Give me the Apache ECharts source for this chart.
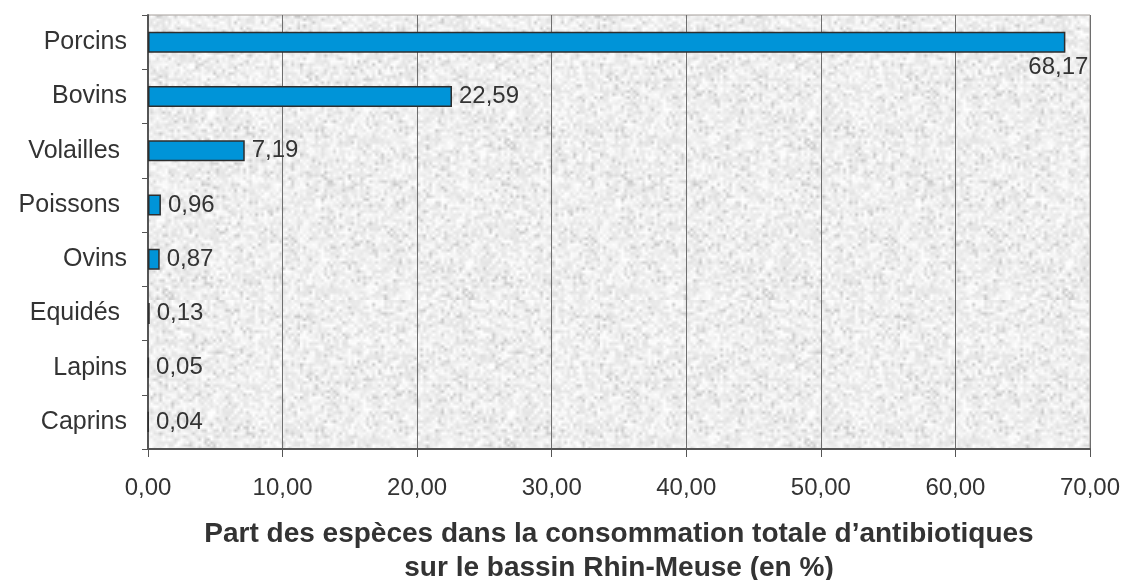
<!DOCTYPE html>
<html>
<head>
<meta charset="utf-8">
<script src="https://cdn.jsdelivr.net/npm/echarts@6/dist/echarts.min.js"></script>
<style>
  html, body { margin: 0; padding: 0; background: #ffffff; }
  #chart { width: 1124px; height: 580px; }
</style>
</head>
<body>
<div id="chart"></div>
<script>
// Species and their share of total antibiotic use (%)
const species = ['Porcins', 'Bovins', 'Volailles ', 'Poissons ', 'Ovins', 'Equidés ', 'Lapins', 'Caprins'];
const shares = [68.17, 22.59, 7.19, 0.96, 0.87, 0.13, 0.05, 0.04];
const axisMin = 0, axisMax = 70, axisStep = 10;
const axisTitle = 'Part des espèces dans la consommation totale d\u2019antibiotiques\nsur le bassin Rhin-Meuse (en %)';

const FONT = 'Liberation Sans, Arial, sans-serif';
const TEXT = '#333333';

// Soft granite-like fill for the plotting area (deterministic speckle)
function stonePattern() {
  const small = 100, scale = 3;
  const src = document.createElement('canvas');
  src.width = small; src.height = small;
  const sctx = src.getContext('2d');
  const img = sctx.createImageData(small, small);
  let s = 20240601;
  const rnd = () => { s = (s * 1103515245 + 12345) & 0x7fffffff; return s / 0x7fffffff; };
  for (let i = 0; i < small * small; i++) {
    const r = rnd();
    let g = 226 + Math.round(rnd() * 29);
    if (r < 0.10) g = 200 + Math.round(rnd() * 22);
    img.data[i * 4] = g;
    img.data[i * 4 + 1] = g;
    img.data[i * 4 + 2] = g;
    img.data[i * 4 + 3] = 255;
  }
  sctx.putImageData(img, 0, 0);
  const c = document.createElement('canvas');
  c.width = small * scale; c.height = small * scale;
  const ctx = c.getContext('2d');
  ctx.imageSmoothingEnabled = true;
  ctx.drawImage(src, 0, 0, c.width, c.height);
  return c;
}

const fmt = v => v.toFixed(2).replace('.', ',');

const chart = echarts.init(document.getElementById('chart'), null, { renderer: 'canvas' });
chart.setOption({
  animation: false,
  backgroundColor: '#ffffff',
  textStyle: { fontFamily: FONT },
  grid: {
    left: 148, right: 34, top: 15, bottom: 131,
    outerBoundsMode: 'none',
    containLabel: false,
    show: true,
    backgroundColor: { image: stonePattern(), repeat: 'repeat' },
    borderColor: '#a59f9b',
    borderWidth: 1
  },
  xAxis: {
    type: 'value',
    min: axisMin, max: axisMax, interval: axisStep,
    axisLine: { show: true, lineStyle: { color: '#555555', width: 2 } },
    axisTick: { show: true, length: 8, lineStyle: { color: '#555555', width: 1 } },
    splitLine: { show: true, lineStyle: { color: '#6e6e6e', width: 1 } },
    axisLabel: { color: TEXT, fontSize: 24, fontFamily: FONT, margin: 27, formatter: fmt },
    name: axisTitle,
    nameLocation: 'middle',
    nameGap: 68,
    nameTextStyle: { color: TEXT, fontSize: 28, fontWeight: 'bold', fontFamily: FONT, lineHeight: 34 }
  },
  yAxis: {
    type: 'category',
    inverse: true,
    data: species,
    axisLine: { show: true, lineStyle: { color: '#555555', width: 2 } },
    axisTick: { show: true, length: 6, lineStyle: { color: '#555555', width: 1 } },
    splitLine: { show: false },
    axisLabel: { color: TEXT, fontSize: 25, fontFamily: FONT, margin: 21 }
  },
  series: [{
    type: 'bar',
    barWidth: 21,
    data: shares.map((v, i) => i === 0
      ? { value: v, label: { offset: [-44, 25] } }
      : v),
    itemStyle: { color: '#0094d8', borderColor: '#2e2e2e', borderWidth: 1.5 },
    label: {
      show: true,
      position: 'right',
      distance: 7,
      color: TEXT,
      fontSize: 24,
      fontFamily: FONT,
      formatter: p => fmt(p.value)
    }
  }]
});
</script>
</body>
</html>
